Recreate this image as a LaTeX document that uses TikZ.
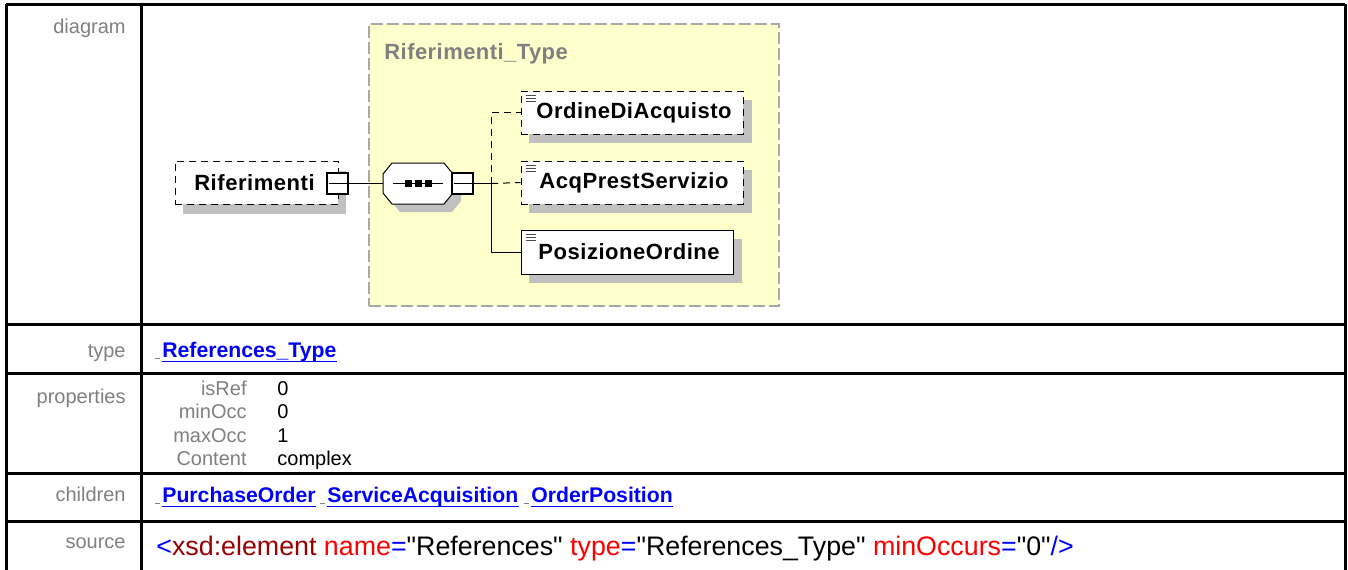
\documentclass[tikz,border=0pt]{standalone}
\usepackage{fontspec}
\setmainfont{Liberation Sans}
\newfontfamily\srcfont{Liberation Sans}[Ligatures=TeXOff]
\definecolor{lblgray}{HTML}{808080}
\definecolor{ybg}{HTML}{FFFFCC}
\definecolor{ybd}{HTML}{A8A8A8}
\definecolor{shd}{HTML}{C0C0C0}
\definecolor{lnk}{HTML}{0000FF}
\definecolor{xred}{HTML}{FF0000}
\definecolor{xmar}{HTML}{990000}
\tikzset{
  lbl/.style={anchor=base east, text=lblgray, font=\fontsize{10}{12}\selectfont, inner sep=0pt},
  val/.style={anchor=base west, font=\fontsize{10}{12}\selectfont, inner sep=0pt},
  link/.style={anchor=base west, text=lnk, font=\bfseries\fontsize{10.6}{12}\selectfont, inner sep=0pt},
  tinymark/.style={draw=lblgray, line width=0.4pt},
  uline/.style={draw=lnk, line width=0.8pt},
  elem/.style={draw=black, fill=white, line width=0.5pt, font=\bfseries\fontsize{11}{13}\selectfont\addfontfeatures{LetterSpace=2.5}, inner sep=0pt},
  opt/.style={dash pattern=on 3.5pt off 2.5pt},
  shadowbox/.style={fill=shd, draw=none},
  expbox/.style={draw=black, fill=white, line width=1.2pt, minimum size=10.5pt, inner sep=0pt},
  conn/.style={draw=black, line width=0.5pt},
  tline/.style={line width=1.5pt},
  icon/.style={draw=black!70, line width=0.4pt},
}
\begin{document}
\begin{tikzpicture}[x=0.5pt, y=-0.5pt]
\useasboundingbox (0,0) rectangle (1348,569);
\clip (0,0) rectangle (1348,569);
\fill[white] (0,0) rectangle (1348,569);

% ---------- group box ----------
\node[draw=ybd, fill=ybg, line width=0.6pt, dash pattern=on 6pt off 2pt, minimum width=205pt, minimum height=141pt, inner sep=0pt] (grp) at (574,165) {};
\node[anchor=base west, text=lblgray, font=\bfseries\fontsize{11}{13}\selectfont\addfontfeatures{LetterSpace=2}, inner sep=0pt] (grpT) at (384,59) {Riferimenti\_Type};

% ---------- Riferimenti ----------
\fill[shadowbox] (183,171) rectangle (346,214);
\node[elem, opt, minimum width=81.5pt, minimum height=21.5pt] (rif) at (256.5,182.5) {Riferimenti\hspace*{2pt}};
\node[expbox] (x1) at (337.5,183.5) {};
\draw[line width=0.5pt] ([xshift=-4.5pt]x1.center) -- ([xshift=4.5pt]x1.center);

% ---------- sequence compositor ----------
\node[minimum width=35pt, minimum height=20pt, inner sep=0pt] (seq) at (418,183.5) {};
\begin{scope}[shift={(8,8)}]
\fill[shd] (383,174) -- (392,163) -- (444,163) -- (453,174) -- (453,193) -- (444,204) -- (392,204) -- (383,193) -- cycle;
\end{scope}
\draw[fill=white, line width=0.5pt] (383,174) -- (392,163) -- (444,163) -- (453,174) -- (453,193) -- (444,204) -- (392,204) -- (383,193) -- cycle;
\draw[line width=0.5pt] (393,183.5) -- (443,183.5);
\foreach \cx in {408.5,418.5,428.5} \fill (\cx-3.5,180) rectangle (\cx+3.5,187);
\node[expbox] (x2) at (462.5,183.5) {};
\draw[line width=0.5pt] ([xshift=-4.5pt]x2.center) -- ([xshift=4.5pt]x2.center);

% ---------- children ----------
\fill[shadowbox] (529,100) rectangle (752,143);
\node[elem, opt, minimum width=111pt, minimum height=21.5pt] (c1) at (632,112.5) {\hspace*{2pt}OrdineDiAcquisto};
\fill[shadowbox] (529,170) rectangle (752,213);
\node[elem, opt, minimum width=111pt, minimum height=21.5pt] (c2) at (632,182.5) {\hspace*{2pt}AcqPrestServizio};
\fill[shadowbox] (529,239) rectangle (742,283);
\node[elem, minimum width=106pt, minimum height=22pt] (c3) at (627,252) {\hspace*{2pt}PosizioneOrdine};
\foreach \n in {c1,c2,c3}{
  \foreach \dy in {5,8,11}
    \draw[icon] ([shift={(5,\dy)}]\n.north west) -- ++(10,0);
}

% ---------- connectors ----------
\coordinate (tr) at (491,183.5);
\draw[conn] (x1.east) -- (seq.west);
\draw[conn] (x2.east) -- (tr);
\draw[conn, opt] (tr) |- (c1.west);
\draw[conn, opt] (tr) -- (c2.west);
\draw[conn] (tr) |- (c3.west);

% ---------- table labels ----------
\node[lbl] (lDiag) at (126,33) {diagram};
\node[lbl] (lType) at (126,357) {type};
\node[lbl] (lProp) at (126,403) {properties};
\node[lbl] (lChild) at (126,501) {children};
\node[lbl] (lSrc) at (126,548) {source};

% type
\draw[tinymark] (155,358) -- (160,358);
\node[link] (tRef) at (162,357) {References\_Type};

% properties
\node[lbl] (pk1) at (247,395) {isRef};
\node[lbl] (pk2) at (247,418.5) {minOcc};
\node[lbl] (pk3) at (247,442) {maxOcc};
\node[lbl] (pk4) at (247,465.5) {Content};
\node[val] (pv1) at (277,395) {0};
\node[val] (pv2) at (277,418.5) {0};
\node[val] (pv3) at (277,442) {1};
\node[val] (pv4) at (277,465.5) {complex};

% children
\draw[tinymark] (155,503) -- (160,503);
\node[link] (ch1) at (162,502) {PurchaseOrder};
\draw[tinymark] (320,503) -- (325,503);
\node[link] (ch2) at (327,502) {ServiceAcquisition};
\draw[tinymark] (524,503) -- (529,503);
\node[link] (ch3) at (531,502) {OrderPosition};
\foreach \n in {tRef,ch1,ch2,ch3}
  \draw[uline] ([yshift=-2.2pt]\n.base west) -- ([yshift=-2.2pt]\n.base east);

% source
\node[anchor=base west, inner sep=0pt, font=\srcfont\fontsize{13.4}{15}\selectfont] (src) at (156,555)
  {\textcolor{lnk}{<}\textcolor{xmar}{xsd:element} \textcolor{xred}{name}\textcolor{lnk}{=}"References" \textcolor{xred}{type}\textcolor{lnk}{=}"References\_Type" \textcolor{xred}{minOccurs}\textcolor{lnk}{=}"0"\textcolor{lnk}{/>}};

% ---------- table grid ----------
\draw[tline] (6,4) -- (1345,4);
\draw[tline] (6,4) -- (6,580);
\draw[tline] (141,4) -- (141,580);
\draw[tline] (1345,4) -- (1345,580);
\foreach \yy in {324,373,473,521} \draw[tline] (6,\yy) -- (1345,\yy);
\end{tikzpicture}
\end{document}
